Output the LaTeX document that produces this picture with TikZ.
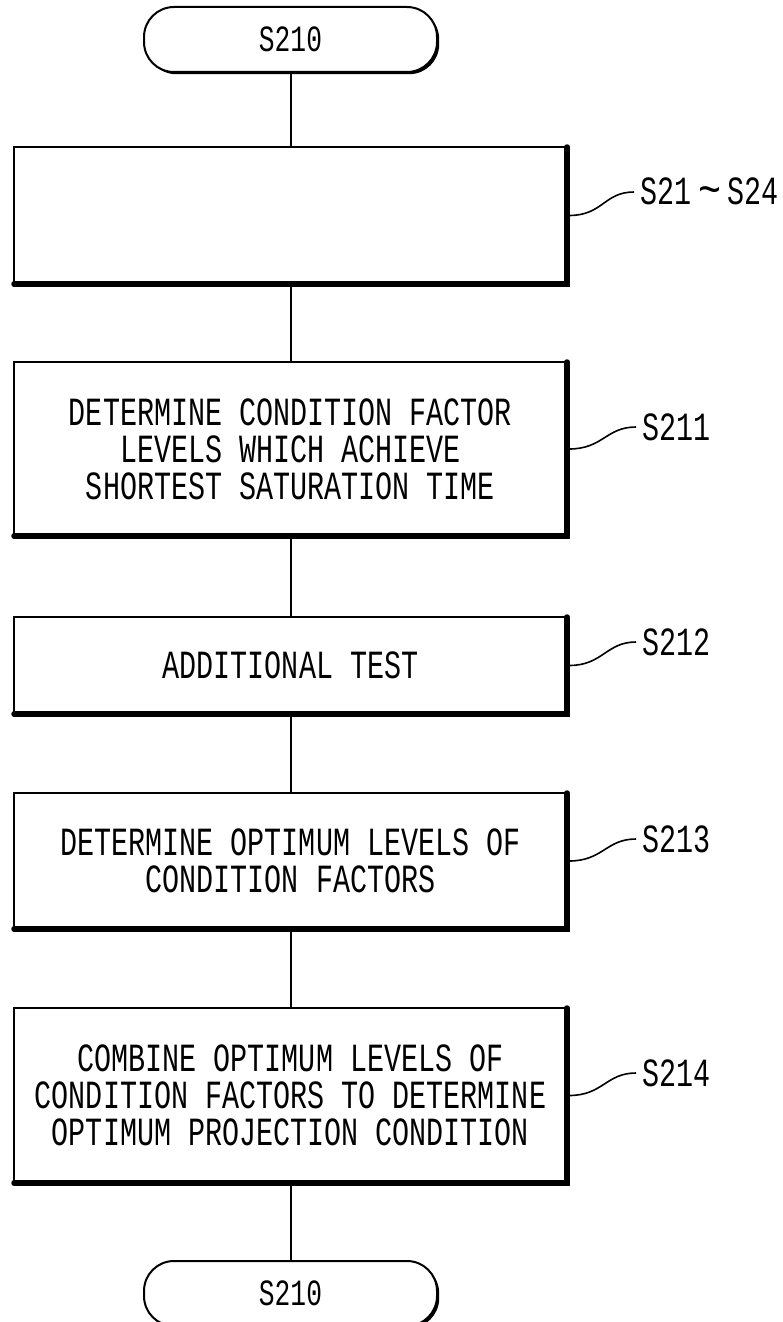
\documentclass[tikz,border=0pt]{standalone}
\usepackage{fontspec}
\newfontfamily\pfont[FakeStretch=0.71]{Liberation Mono}
\usetikzlibrary{shadows}
\newcommand{\wavedash}{\raisebox{-1pt}{\scalebox{1.35}[1.2]{\textasciitilde}}}
\begin{document}
\begin{tikzpicture}[x=1pt,y=-1pt,
  every node/.style={font=\pfont\fontsize{40}{37}\selectfont},
  stepbox/.style={draw, line width=2pt, minimum width=553pt, align=center,
    inner sep=0pt, outer sep=0pt},
  term/.style={draw, line width=2pt, fill=white, rounded corners=30pt,
    minimum width=293pt, minimum height=65pt, inner sep=0pt, outer sep=0pt,
    font=\pfont\fontsize{37}{37}\selectfont,
    general shadow={fill=black, shadow xshift=2.2pt, shadow yshift=-2.2pt}},
  conn/.style={line width=2pt},
  heavyedge/.style={line width=5.5pt, line cap=round, line join=miter},
  leader/.style={line width=1.6pt},
  tag/.style={anchor=west, inner sep=0pt}]
\useasboundingbox (0,0) rectangle (783,1322);

% terminals and process boxes
\node[term] (start) at (290.5,39.5) {S210};
\node[stepbox, minimum height=137pt] (b1) at (290.5,215.5) {};
\node[stepbox, minimum height=174pt] (b2) at (290.5,449)
  {DETERMINE CONDITION FACTOR\\LEVELS WHICH ACHIEVE\\SHORTEST SATURATION TIME};
\node[stepbox, minimum height=97pt] (b3) at (290.5,665.5) {ADDITIONAL TEST};
\node[stepbox, minimum height=136pt] (b4) at (290.5,861)
  {DETERMINE OPTIMUM LEVELS OF\\CONDITION FACTORS};
\node[stepbox, minimum height=175pt] (b5) at (290.5,1095.5)
  {COMBINE OPTIMUM LEVELS OF\\CONDITION FACTORS TO DETERMINE\\OPTIMUM PROJECTION CONDITION};
\node[term] (stop) at (290.5,1293.5) {S210};

% heavy lower and right edges of the boxes
\foreach \b in {b1,b2,b3,b4,b5}
  \draw[heavyedge] (\b.south west) -- (\b.south east) -- (\b.north east);

% flow lines
\draw[conn] (start.south) -- (b1.north);
\draw[conn] (b1.south) -- (b2.north);
\draw[conn] (b2.south) -- (b3.north);
\draw[conn] (b3.south) -- (b4.north);
\draw[conn] (b4.south) -- (b5.north);
\draw[conn] (b5.south) -- (stop.north);

% step labels with leaders
\node[tag] (l1) at (640,192) {S21\,\wavedash\,S24};
\node[tag] (l2) at (642,427) {S211};
\node[tag] (l3) at (642,642) {S212};
\node[tag] (l4) at (642,839) {S213};
\node[tag] (l5) at (642,1073) {S214};
\foreach \b/\l in {b1/l1,b2/l2,b3/l3,b4/l4,b5/l5}
  \draw[leader] ([xshift=2pt]\b.east) .. controls +(34,0) and +(-30,0) .. ([xshift=-6pt]\l.west);
\end{tikzpicture}
\end{document}
